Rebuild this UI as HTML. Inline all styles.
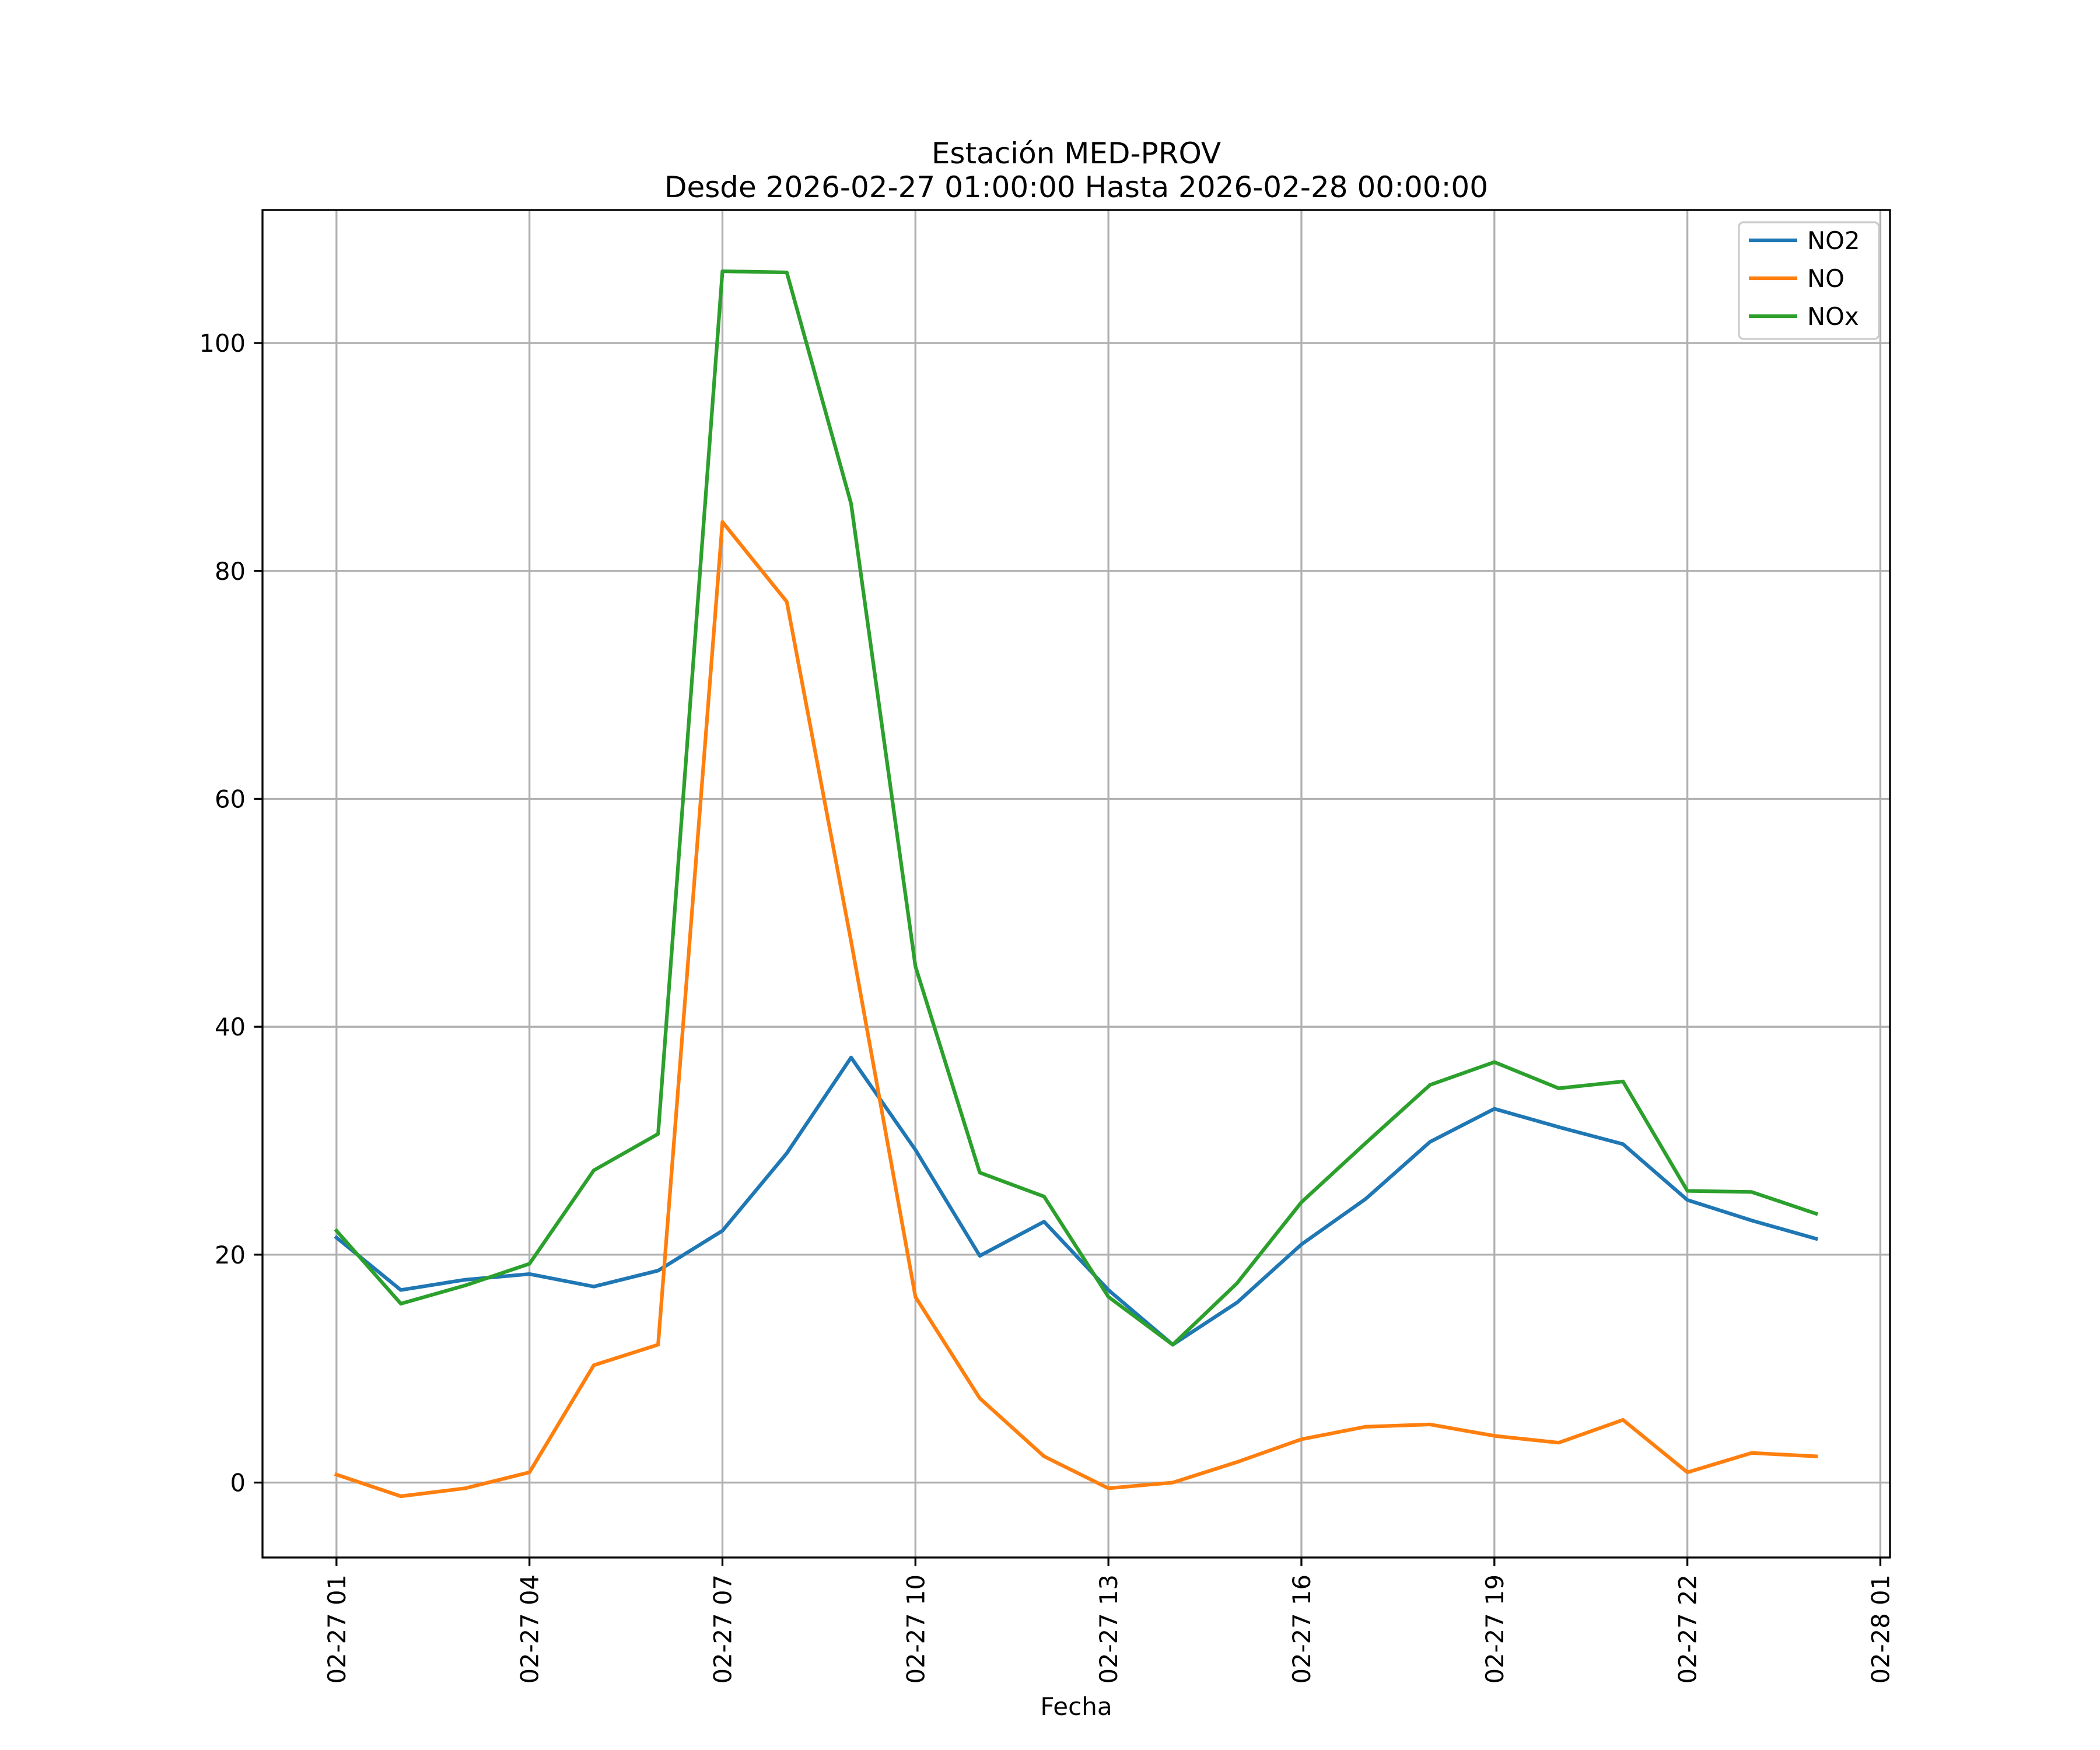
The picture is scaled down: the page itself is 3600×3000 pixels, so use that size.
<!DOCTYPE html>
<html><head><meta charset="utf-8"><style>body{margin:0;background:#fff}svg{display:block}text{font-family:"DejaVu Sans","Liberation Sans",sans-serif}</style></head>
<body>
<svg id="chart" width="3600" height="3000" xmlns="http://www.w3.org/2000/svg">
<rect width="3600" height="3000" fill="#fff"/>
<g id="grid"></g><g id="series"></g><g id="axes"></g>
<text x="1845" y="280" font-size="50" text-anchor="middle">Estación MED-PROV</text>
<text x="1845" y="338" font-size="50" text-anchor="middle">Desde 2026-02-27 01:00:00 Hasta 2026-02-28 00:00:00</text>
<text x="1845" y="2940" font-size="42" text-anchor="middle">Fecha</text>
<g id="legend"></g>
</svg>
<script>
const hours = [1,2,3,4,5,6,7,8,9,10,11,12,13,14,15,16,17,18,19,20,21,22,23,24];
const no2 = [21.5,16.9,17.8,18.3,17.2,18.6,22.1,28.9,37.3,29.2,19.9,22.9,16.9,12.1,15.8,20.9,24.9,29.9,32.8,31.2,29.7,24.8,23.0,21.4];
const no = [0.7,-1.2,-0.5,0.9,10.3,12.1,84.3,77.3,47.5,16.3,7.4,2.3,-0.5,0.0,1.8,3.8,4.9,5.1,4.1,3.5,5.5,0.9,2.6,2.3];
const nox = [22.1,15.7,17.3,19.2,27.4,30.6,106.3,106.2,85.9,45.3,27.2,25.1,16.3,12.1,17.5,24.6,29.8,34.9,36.9,34.6,35.2,25.6,25.5,23.6];
const xTickHours = [1,4,7,10,13,16,19,22,25];
const xTickLabels = ["02-27 01","02-27 04","02-27 07","02-27 10","02-27 13","02-27 16","02-27 19","02-27 22","02-28 01"];
const yTicks = [0,20,40,60,80,100];
const seriesNames = ["NO2","NO","NOx"];
const colors = ["#1f77b4","#ff7f0e","#2ca02c"];

const L=450,R=3240,T=360,B=2670;
const allV = no2.concat(no, nox);
let vmin=Math.min(...allV), vmax=Math.max(...allV);
const vm=(vmax-vmin)*0.05; vmin-=vm; vmax+=vm;
let hmin=Math.min(...hours), hmax=Math.max(...hours);
const hm=(hmax-hmin)*0.05; hmin-=hm; hmax+=hm;
const x=h=>L+(h-hmin)/(hmax-hmin)*(R-L);
const y=v=>B-(v-vmin)/(vmax-vmin)*(B-T);
const NS="http://www.w3.org/2000/svg";
function mk(tag,attrs,parent,txt){const e=document.createElementNS(NS,tag);for(const k in attrs)e.setAttribute(k,attrs[k]);if(txt!==undefined)e.textContent=txt;parent.appendChild(e);return e;}
const grid=document.getElementById('grid'),axes=document.getElementById('axes'),ser=document.getElementById('series'),leg=document.getElementById('legend');
xTickHours.forEach((h,i)=>{
  const gx=x(h);
  const g=mk('line',{x1:gx,x2:gx,y1:T,y2:B,stroke:'#b0b0b0','stroke-width':3.3},grid);
  
  
  const t=mk('line',{x1:gx,x2:gx,y1:B,y2:B+14.6,stroke:'#000','stroke-width':3.3},axes);
  
  
  const lb=mk('text',{x:0,y:0,'font-size':41.7,'text-anchor':'end',transform:`translate(${gx+15},${B+29}) rotate(-90)`},axes,xTickLabels[i]);
  
  
});
yTicks.forEach(v=>{
  const gy=y(v);
  const g=mk('line',{x1:L,x2:R,y1:gy,y2:gy,stroke:'#b0b0b0','stroke-width':3.3},grid);
  
  
  const t=mk('line',{x1:L-14.6,x2:L,y1:gy,y2:gy,stroke:'#000','stroke-width':3.3},axes);
  
  
  const lb=mk('text',{x:L-29,y:gy+15,'font-size':41.7,'text-anchor':'end'},axes,String(v));
  
  
});
[no2,no,nox].forEach((d,i)=>{
  const p=mk('polyline',{points:d.map((v,j)=>x(hours[j])+','+y(v)).join(' '),fill:'none',stroke:colors[i],'stroke-width':6.25,'stroke-linejoin':'round','stroke-linecap':'square'},ser);
  
  
});
const sp=mk('rect',{x:L,y:T,width:R-L,height:B-T,fill:'none',stroke:'#000','stroke-width':3.3},axes);


const lbx=mk('rect',{x:2981,y:381,width:240,height:200,rx:8,fill:'#fff','fill-opacity':0.8,stroke:'#cccccc','stroke-width':3.3},leg);


seriesNames.forEach((n,i)=>{
  const ly=412+i*65;
  const g=mk('g',{},leg);
  
  
  mk('line',{x1:2998,x2:3081,y1:ly,y2:ly,stroke:colors[i],'stroke-width':6.25},g);
  mk('text',{x:3098,y:ly+15,'font-size':41.7},g,n);
});
</script>
</body></html>
